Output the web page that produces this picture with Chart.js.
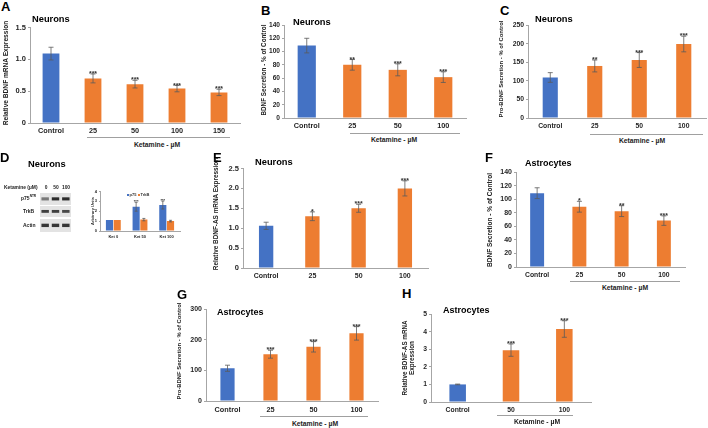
<!DOCTYPE html>
<html>
<head>
<meta charset="utf-8">
<script src="https://cdn.jsdelivr.net/npm/chart.js@4.4.1/dist/chart.umd.min.js"></script>
<style>
  body { margin: 0; width: 708px; height: 428px; background: #fff; position: relative; overflow: hidden;
         font-family: "Liberation Sans", Arial, sans-serif; }
  canvas, .t, .ln, .sq { position: absolute; }
  .t { font-weight: bold; white-space: nowrap; color: #000; line-height: 1; }
  .ln { border-top: 1px solid #a0a0a0; height: 0; }
  .sq { width: 2px; height: 2px; }
</style>
</head>
<body>
<script>
// ---- data ----
const doseLabels5 = ['Control', '25', '50', '100', '150'];
const doseLabels4 = ['Control', '25', '50', '100'];
const doseLabels3 = ['Control', '50', '100'];

// A: neurons, relative BDNF mRNA
const bdnfMrnaNeurons = [1.09, 0.70, 0.61, 0.54, 0.48];
const bdnfMrnaNeuronsErr = [0.10, 0.07, 0.06, 0.05, 0.05];
const bdnfMrnaNeuronsSig = ['', '***', '***', '***', '***'];

// B: neurons, BDNF secretion (% of control)
const bdnfSecNeurons = [109, 80, 72.5, 61.5];
const bdnfSecNeuronsErr = [11, 8, 9, 8];
const bdnfSecNeuronsSig = ['', '**', '***', '***'];

// C: neurons, pro-BDNF secretion (% of control)
const proBdnfSecNeurons = [109, 140, 156, 199];
const proBdnfSecNeuronsErr = [13, 16, 20, 21];
const proBdnfSecNeuronsSig = ['', '**', '***', '***'];

// D: western blot quantification
const westernGroups = ['Ket 0', 'Ket 50', 'Ket 100'];
const p75Units = [1.1, 2.45, 2.62];
const p75UnitsErr = [0, 0.45, 0.4];
const p75UnitsSig = ['', '***', '***'];
const trkbUnits = [1.1, 1.15, 1.0];
const trkbUnitsErr = [0, 0.12, 0.08];
const blotLanes = ['0', '50', '100'];
const p75Band = [0.55, 0.95, 0.95];
const trkbBand = [0.85, 0.85, 0.8];
const actinBand = [0.9, 0.9, 0.9];

// E: neurons, relative BDNF-AS mRNA
const bdnfAsNeurons = [1.06, 1.30, 1.50, 2.00];
const bdnfAsNeuronsErr = [0.09, 0.11, 0.10, 0.19];
const bdnfAsNeuronsSig = ['', '*', '***', '***'];

// F: astrocytes, BDNF secretion
const bdnfSecAstro = [109, 89, 82.5, 68.5];
const bdnfSecAstroErr = [8, 8, 8, 7];
const bdnfSecAstroSig = ['', '*', '**', '***'];

// G: astrocytes, pro-BDNF secretion
const proBdnfSecAstro = [107, 153, 177, 221];
const proBdnfSecAstroErr = [10, 13, 17, 22];
const proBdnfSecAstroSig = ['', '***', '***', '***'];

// H: astrocytes, relative BDNF-AS mRNA
const bdnfAsAstro = [1.0, 2.95, 4.15];
const bdnfAsAstroErr = [0.02, 0.35, 0.47];
const bdnfAsAstroSig = ['', '***', '***'];

const BLUE = '#4472C4';
const ORANGE = '#ED7D31';
const FONT = '"Liberation Sans", Arial, sans-serif';

// error bars + significance stars, placed through the y scale
const errorBars = {
  id: 'errorBars',
  afterDatasetsDraw(chart, args, opts) {
    const ctx = chart.ctx;
    const y = chart.scales.y;
    chart.data.datasets.forEach((ds, di) => {
      chart.getDatasetMeta(di).data.forEach((bar, i) => {
        const v = ds.data[i];
        const e = ds.errors ? ds.errors[i] : 0;
        let top = y.getPixelForValue(v);
        ctx.save();
        if (e) {
          const hi = y.getPixelForValue(v + e);
          const lo = y.getPixelForValue(v - e);
          ctx.strokeStyle = '#5a5a5a';
          ctx.lineWidth = 0.8;
          ctx.beginPath();
          ctx.moveTo(bar.x, hi); ctx.lineTo(bar.x, lo);
          ctx.moveTo(bar.x - opts.cap, hi); ctx.lineTo(bar.x + opts.cap, hi);
          ctx.moveTo(bar.x - opts.cap, lo); ctx.lineTo(bar.x + opts.cap, lo);
          ctx.stroke();
          top = hi;
        }
        const s = ds.stars ? ds.stars[i] : '';
        if (s) {
          ctx.fillStyle = '#333';
          ctx.font = 'bold ' + opts.starSize + 'px ' + FONT;
          ctx.textAlign = 'center';
          ctx.textBaseline = 'alphabetic';
          ctx.fillText(s, bar.x, top + opts.starSize * 0.3);
        }
        ctx.restore();
      });
    });
  }
};

const areaFill = {
  id: 'areaFill',
  beforeDraw(chart, args, opts) {
    if (!opts.color) return;
    const a = chart.chartArea;
    chart.ctx.save();
    chart.ctx.fillStyle = opts.color;
    chart.ctx.fillRect(a.left, a.top, a.right - a.left, a.bottom - a.top);
    chart.ctx.restore();
  }
};
Chart.register(errorBars, areaFill);

function makeCanvas(left, top, w, h) {
  const c = document.createElement('canvas');
  c.width = w; c.height = h;
  c.style.left = left + 'px'; c.style.top = top + 'px';
  c.style.width = w + 'px'; c.style.height = h + 'px';
  document.body.appendChild(c);
  return c;
}

// o: x0/x1 plot edges, top (max tick) and zero pixel rows
function barPanel(o) {
  const L = o.L || 30, T = o.T || 6, R = 2, B = o.B || 14;
  const w = L + (o.x1 - o.x0) + R;
  const h = T + (o.zero - o.top) + B;
  const c = makeCanvas(o.x0 - L, o.top - T, w, h);
  const datasets = o.series.map(s => ({
    data: s.values,
    errors: s.errors,
    stars: s.stars,
    backgroundColor: s.color || o.labels.map((_, i) => i === 0 ? BLUE : ORANGE),
    categoryPercentage: o.catPct || 1,
    barPercentage: o.barPct
  }));
  new Chart(c, {
    type: 'bar',
    data: { labels: o.labels, datasets },
    options: {
      responsive: false,
      animation: false,
      layout: { padding: { top: T, right: R, left: 0, bottom: 0 } },
      plugins: {
        legend: { display: false },
        tooltip: { enabled: false },
        errorBars: { cap: o.cap || 2.5, starSize: o.starSize || 7 },
        areaFill: {}
      },
      scales: {
        x: {
          grid: { display: false, drawTicks: false },
          border: { color: '#a6a6a6', width: 1 },
          ticks: { color: '#262626', font: { family: FONT, size: o.xFont, weight: 'bold' },
                   padding: o.xPad || 4, maxRotation: 0, autoSkip: false },
          afterFit: s => { s.height = B; }
        },
        y: {
          min: 0, max: o.max,
          grid: { drawOnChartArea: false, tickLength: o.tickLen || 2, color: '#a6a6a6' },
          border: { color: '#a6a6a6', width: 1 },
          ticks: { stepSize: o.step, color: '#262626', padding: 2,
                   font: { family: FONT, size: o.yFont, weight: 'bold' } },
          afterFit: s => { s.width = L; }
        }
      }
    }
  });
}

function blotRow(band, x0, y0, x1, y1) {
  const c = makeCanvas(x0, y0, x1 - x0, y1 - y0);
  new Chart(c, {
    type: 'bar',
    data: {
      labels: blotLanes,
      datasets: [{
        data: band.map(() => [0.38, 0.64]),
        backgroundColor: band.map(v => { const g = Math.round(225 - 190 * v); return `rgb(${g},${g},${g})`; }),
        categoryPercentage: 1,
        barPercentage: 0.72
      }]
    },
    options: {
      responsive: false,
      animation: false,
      layout: { padding: 0 },
      plugins: { legend: { display: false }, tooltip: { enabled: false }, areaFill: { color: '#e3e3e3' } },
      scales: { x: { display: false }, y: { display: false, min: 0, max: 1 } }
    }
  });
}

function txt(s, x, y, size, o = {}) {
  const d = document.createElement('div');
  d.className = 't';
  d.innerHTML = s;
  d.style.left = x + 'px';
  d.style.top = y + 'px';
  d.style.fontSize = size + 'px';
  let tf = o.left ? 'translate(0,-50%)' : 'translate(-50%,-50%)';
  if (o.rot) tf += ' rotate(-90deg)';
  d.style.transform = tf;
  if (o.color) d.style.color = o.color;
  document.body.appendChild(d);
}

function line(x0, x1, y) {
  const d = document.createElement('div');
  d.className = 'ln';
  d.style.left = x0 + 'px'; d.style.top = y + 'px'; d.style.width = (x1 - x0) + 'px';
  document.body.appendChild(d);
}

// ---- A ----
barPanel({ x0: 30, x1: 240, top: 27, zero: 123, max: 1.5, step: 0.5, labels: doseLabels5,
  series: [{ values: bdnfMrnaNeurons, errors: bdnfMrnaNeuronsErr, stars: bdnfMrnaNeuronsSig }],
  barPct: 0.4, xFont: 7.3, yFont: 7.5 });
txt('A', 1, 6, 13, { left: true });
txt('Neurons', 32, 20, 9.3, { left: true });
txt('Relative BDNF mRNA Expression', 6, 73, 6.6, { rot: true, color: '#222' });
line(87, 230, 137);
txt('Ketamine - µM', 157, 145, 6.8, { color: '#222' });

// ---- B ----
barPanel({ x0: 284, x1: 466, top: 25, zero: 118, max: 140, step: 20, labels: doseLabels4,
  series: [{ values: bdnfSecNeurons, errors: bdnfSecNeuronsErr, stars: bdnfSecNeuronsSig }],
  barPct: 0.4, xFont: 7.3, yFont: 6.6 });
txt('B', 261, 10, 13, { left: true });
txt('Neurons', 293, 23, 9.3, { left: true });
txt('BDNF Secretion - % of Control', 264, 70, 6.3, { rot: true, color: '#222' });
line(350, 460, 133);
txt('Ketamine - µM', 394, 140, 6.8, { color: '#222' });

// ---- C ----
barPanel({ x0: 528, x1: 706, top: 25, zero: 118, max: 250, step: 50, labels: doseLabels4,
  series: [{ values: proBdnfSecNeurons, errors: proBdnfSecNeuronsErr, stars: proBdnfSecNeuronsSig }],
  barPct: 0.34, xFont: 6.8, yFont: 6.8 });
txt('C', 500, 10, 13, { left: true });
txt('Neurons', 535, 20, 9.3, { left: true });
txt('Pro-BDNF Secretion - % of Control', 502, 69, 5.9, { rot: true, color: '#222' });
line(590, 703, 134);
txt('Ketamine - µM', 642, 141, 6.8, { color: '#222' });

// ---- D ----
txt('D', 0, 157, 13, { left: true });
txt('Neurons', 28, 165, 9.3, { left: true });
txt('Ketamine (µM)', 4, 188, 4.9, { left: true, color: '#222' });
txt(blotLanes[0], 46, 188, 4.9, { color: '#222' });
txt(blotLanes[1], 56, 188, 4.9, { color: '#222' });
txt(blotLanes[2], 66, 188, 4.9, { color: '#222' });
txt('p75<sup style="font-size:3.2px">NTR</sup>', 21, 198, 5, { left: true, color: '#222' });
txt('TrkB', 23, 211, 5, { left: true, color: '#222' });
txt('Actin', 23, 225, 5, { left: true, color: '#222' });
blotRow(p75Band, 40, 193, 71, 205);
blotRow(trkbBand, 40, 206, 71, 217);
blotRow(actinBand, 40, 219, 71, 232);

barPanel({ x0: 100, x1: 180, top: 191, zero: 231, max: 4, step: 1, labels: westernGroups,
  series: [
    { values: p75Units, errors: p75UnitsErr, stars: p75UnitsSig, color: BLUE },
    { values: trkbUnits, errors: trkbUnitsErr, color: ORANGE }
  ],
  catPct: 0.58, barPct: 0.92, L: 10, T: 4, B: 9, xFont: 4, yFont: 4, xPad: 3,
  cap: 1.5, starSize: 4, tickLen: 1 });
txt('Arbitrary Units', 93, 211, 4, { rot: true, color: '#333' });
(function legend() {
  const items = [['p75', BLUE, 127], ['TrkB', ORANGE, 138]];
  items.forEach(([name, col, x]) => {
    const s = document.createElement('div');
    s.className = 'sq';
    s.style.left = x + 'px'; s.style.top = '194px'; s.style.background = col;
    document.body.appendChild(s);
    txt(name, x + 2.5, 195, 4, { left: true, color: '#333' });
  });
})();

// ---- E ----
barPanel({ x0: 243, x1: 428, top: 168, zero: 268, max: 2.5, step: 0.5, labels: doseLabels4,
  series: [{ values: bdnfAsNeurons, errors: bdnfAsNeuronsErr, stars: bdnfAsNeuronsSig }],
  barPct: 0.31, xFont: 7, yFont: 7.5 });
txt('E', 213, 157, 13, { left: true });
txt('Neurons', 255, 163, 9.3, { left: true });
txt('Relative BDNF-AS mRNA Expression', 216, 214, 6.4, { rot: true, color: '#222' });

// ---- F ----
barPanel({ x0: 516, x1: 685, top: 172, zero: 267, max: 140, step: 20, labels: doseLabels4,
  series: [{ values: bdnfSecAstro, errors: bdnfSecAstroErr, stars: bdnfSecAstroSig }],
  barPct: 0.33, xFont: 6.8, yFont: 7 });
txt('F', 485, 157, 13, { left: true });
txt('Astrocytes', 525, 163, 9, { left: true });
txt('BDNF Secretion - % of Control', 490, 220, 6.5, { rot: true, color: '#222' });
line(570, 680, 281);
txt('Ketamine - µM', 625, 288, 6.8, { color: '#222' });

// ---- G ----
barPanel({ x0: 206, x1: 378, top: 309, zero: 401, max: 300, step: 100, labels: doseLabels4,
  series: [{ values: proBdnfSecAstro, errors: proBdnfSecAstroErr, stars: proBdnfSecAstroSig }],
  barPct: 0.33, xFont: 7.3, yFont: 7, xPad: 5 });
txt('G', 177, 294, 13, { left: true });
txt('Astrocytes', 217, 312, 9, { left: true });
txt('Pro-BDNF Secretion - % of Control', 180, 351, 5.9, { rot: true, color: '#222' });
line(260, 368, 416);
txt('Ketamine - µM', 315, 424, 6.8, { color: '#222' });

// ---- H ----
barPanel({ x0: 431, x1: 591, top: 314, zero: 402, max: 5, step: 1, labels: doseLabels3,
  series: [{ values: bdnfAsAstro, errors: bdnfAsAstroErr, stars: bdnfAsAstroSig }],
  barPct: 0.31, xFont: 6.8, yFont: 6.8 });
txt('H', 402, 293, 13, { left: true });
txt('Astrocytes', 443, 310, 9, { left: true });
txt('Relative BDNF-AS mRNA', 405, 358, 6.3, { rot: true, color: '#222' });
txt('Expression', 412, 358, 6.3, { rot: true, color: '#222' });
line(497, 573, 415);
txt('Ketamine - µM', 537, 422, 6.8, { color: '#222' });
</script>
</body>
</html>
